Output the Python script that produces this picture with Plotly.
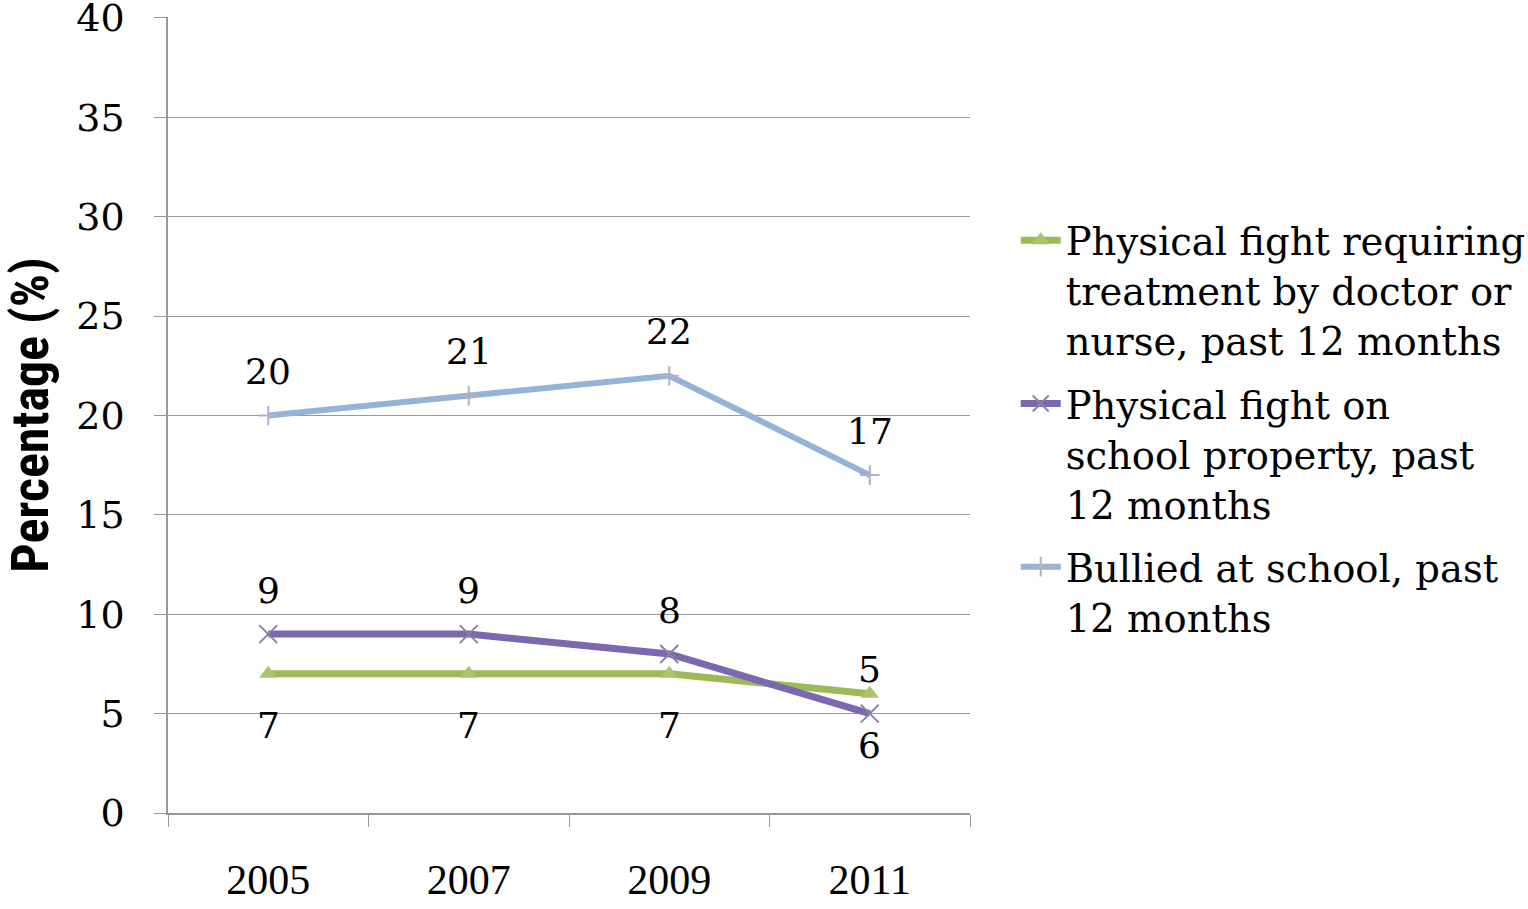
import plotly.graph_objects as go

years = ["2005", "2007", "2009", "2011"]
treatment = [7, 7, 7, 6]
school_fight = [9, 9, 8, 5]
bullied = [20, 21, 22, 17]

names = [
    "Physical fight requiring<br>treatment by doctor or<br>nurse, past 12 months",
    "Physical fight on<br>school property, past<br>12 months",
    "Bullied at school, past<br>12 months",
]

serif = "DejaVu Serif, Liberation Serif, serif"

fig = go.Figure()
fig.add_trace(go.Scatter(
    x=years, y=treatment, name=names[0], mode="lines+markers", legendgroup="a",
    line=dict(color="#9bbb59", width=7),
    marker=dict(symbol="triangle-up", size=16, color="#a9c46a"),
))
fig.add_trace(go.Scatter(
    x=years, y=school_fight, name=names[1], mode="lines+markers", legendgroup="b",
    line=dict(color="#7b68b0", width=7),
    marker=dict(symbol="x-thin", size=18, color="#7b68b0", line=dict(width=2, color="#8a80a8")),
))
fig.add_trace(go.Scatter(
    x=years, y=bullied, name=names[2], mode="lines+markers", legendgroup="c",
    line=dict(color="#95b3d7", width=6),
    marker=dict(symbol="cross-thin", size=14, color="#b0b0c8", line=dict(width=2, color="#b0b0c8")),
))

# data labels (above for bullied / school fight, below for treatment)
labels = [(bullied, 44), (school_fight, 44), (treatment, -52)]
for vals, shift in labels:
    for i, v in enumerate(vals):
        fig.add_annotation(x=i, y=v, xref="x", yref="y", text=str(v), showarrow=False,
                           yshift=shift, font=dict(family=serif, size=36, color="black"))

fig.update_layout(
    width=1528, height=909,
    plot_bgcolor="white", paper_bgcolor="white",
    margin=dict(l=168, r=558, t=17, b=96, autoexpand=False),
    font=dict(family=serif, color="black"),
    legend=dict(x=1.057, y=0.759, xanchor="left", yanchor="top", valign="top",
                font=dict(family=serif, size=38.5), tracegroupgap=10,
                itemwidth=40),
    showlegend=True,
)
fig.update_xaxes(
    type="category", tickson="boundaries", range=[-0.5, 3.5], automargin=False,
    showline=True, linecolor="#999", linewidth=1.5,
    ticks="outside", ticklen=12, tickcolor="#999",
    tickfont=dict(family="Liberation Serif, serif", size=42),
    ticklabelstandoff=29, showgrid=False,
)
fig.update_yaxes(
    range=[0, 40.05], tickvals=[0, 5, 10, 15, 20, 25, 30, 35, 40], automargin=False,
    showline=True, linecolor="#999", linewidth=1.5,
    ticks="outside", ticklen=12, tickcolor="#999",
    gridcolor="#999", gridwidth=1,
    tickfont=dict(family=serif, size=38), ticklabeloverflow="allow",
    ticklabelstandoff=22, zeroline=False,
    title=dict(text="<b>Percentage (%)</b>", standoff=14,
               font=dict(family="Liberation Sans Narrow, Roboto Condensed, Liberation Sans, sans-serif", size=52)),
)

# drop the default body margin so the figure fills the window exactly
fig.write_html("out.html", config={"displayModeBar": False},
               post_script="document.body.style.margin='0';")
